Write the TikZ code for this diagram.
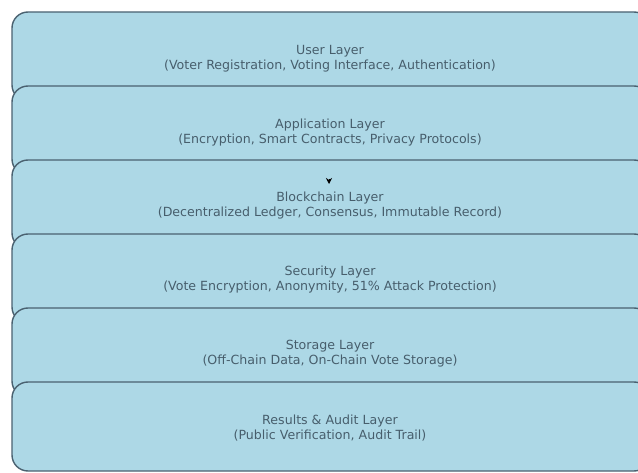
\documentclass[tikz,border=0pt]{standalone}
\usepackage{fontspec}
\setmainfont{DejaVu Sans}
\usepackage{tikz}
\usetikzlibrary{arrows.meta}
\usepackage{xcolor}
\definecolor{LayerBlue}{HTML}{ADD8E6}
\definecolor{LayerEdge}{HTML}{4A6170}
\definecolor{LayerText}{HTML}{475E6C}

\begin{document}
\begin{tikzpicture}[x=1pt,y=1pt]
\useasboundingbox (0,0) rectangle (638,-473);
\begin{scope}[fill=LayerBlue, draw=LayerEdge, line width=1.4pt, rounded corners=16pt]
    \filldraw (12,-12) rectangle (650,-101);
    \filldraw (12,-86) rectangle (650,-175);
    \filldraw (12,-160) rectangle (650,-249);
    \filldraw (12,-234) rectangle (650,-323);
    \filldraw (12,-308) rectangle (650,-397);
    \filldraw (12,-382) rectangle (650,-471);
\end{scope}
\begin{scope}[every node/.style={text=LayerText, align=center, inner sep=0pt, font=\fontsize{12.6}{15}\selectfont}]
    \node (user) at (330,-59) {User Layer\\(Voter Registration, Voting Interface, Authentication)};
    \node (app) at (330,-133) {Application Layer\\(Encryption, Smart Contracts, Privacy Protocols)};
    \node (chain) at (330,-206) {Blockchain Layer\\(Decentralized Ledger, Consensus, Immutable Record)};
    \node (sec) at (330,-280) {Security Layer\\(Vote Encryption, Anonymity, 51\% Attack Protection)};
    \node (store) at (330,-354) {Storage Layer\\(Off-Chain Data, On-Chain Vote Storage)};
    \node (audit) at (330,-428) {Results \& Audit Layer\\(Public Verification, Audit Trail)};
\end{scope}
\coordinate (tip) at (329,-184);
\draw[-{Stealth[length=6pt,width=6pt]}, black, line width=0.8pt] (329,-179) -- (tip);
\end{tikzpicture}
\end{document}
